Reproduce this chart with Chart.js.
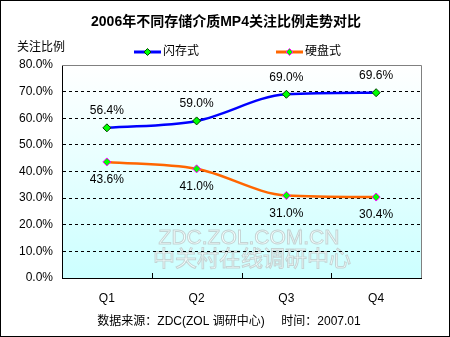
<!DOCTYPE html>
<html>
<head>
<meta charset="utf-8">
<script src="https://cdn.jsdelivr.net/npm/chart.js@4/dist/chart.umd.min.js"></script>
<style>
    body { margin: 0; background: #fff; }
    #wrap { width: 450px; height: 337px; }
</style>
</head>
<body>
<div id="wrap"><canvas id="mp4Chart" width="450" height="337"></canvas></div>
<script>
const categories = ['Q1', 'Q2', 'Q3', 'Q4'];
const flashShare = [56.4, 59.0, 69.0, 69.6];
const diskShare = [43.6, 41.0, 31.0, 30.4];
const seriesNames = ['闪存式', '硬盘式'];
const yMin = 0, yMax = 80, yStep = 10;

const titleText = '2006年不同存储介质MP4关注比例走势对比';
const yAxisTitle = '关注比例';
const footerText = '数据来源：ZDC(ZOL 调研中心)     时间：2007.01';

const FONT = '"Liberation Sans", "Noto Sans CJK SC", sans-serif';
Chart.defaults.font.family = FONT;
Chart.defaults.font.size = 12;
Chart.defaults.color = '#000';

// frame, plot background, titles, legend, watermark
const decorations = {
    id: 'decorations',
    beforeDraw(chart) {
        let ctx = chart.ctx;
        let area = chart.chartArea;
        ctx.save();
        ctx.fillStyle = '#fff';
        ctx.fillRect(0, 0, chart.width, chart.height);
        let grad = ctx.createLinearGradient(0, area.top, 0, area.bottom);
        grad.addColorStop(0, '#ffffff');
        grad.addColorStop(1, '#ccffff');
        ctx.fillStyle = grad;
        ctx.fillRect(area.left, area.top, area.right - area.left, area.bottom - area.top);

        // watermark
        ctx.textAlign = 'center';
        ctx.textBaseline = 'middle';
        ctx.lineWidth = 1;
        ctx.strokeStyle = '#c4d4d4';
        ctx.fillStyle = 'rgba(255,255,255,0.85)';
        ctx.font = '21px ' + FONT;
        ctx.fillText('ZDC.ZOL.COM.CN', 249, 238);
        ctx.strokeText('ZDC.ZOL.COM.CN', 249, 238);
        ctx.font = '22px ' + FONT;
        ctx.fillText('中关村在线调研中心', 252, 260);
        ctx.strokeText('中关村在线调研中心', 252, 260);
        ctx.restore();
    },
    afterDraw(chart) {
        let ctx = chart.ctx;
        let area = chart.chartArea;
        ctx.save();
        // top and right plot border
        ctx.strokeStyle = '#808080';
        ctx.lineWidth = 1;
        ctx.beginPath();
        ctx.moveTo(area.left, area.top + 0.5);
        ctx.lineTo(area.right + 0.5, area.top + 0.5);
        ctx.lineTo(area.right + 0.5, area.bottom);
        ctx.stroke();

        // small inner ticks between categories
        let xs = chart.scales.x;
        ctx.strokeStyle = '#000';
        for (let i = 0; i < categories.length - 1; i++) {
            let x = Math.round((xs.getPixelForValue(i) + xs.getPixelForValue(i + 1)) / 2) + 0.5;
            ctx.beginPath();
            ctx.moveTo(x, area.bottom - 5);
            ctx.lineTo(x, area.bottom);
            ctx.stroke();
        }

        // outer frame
        ctx.strokeStyle = '#000';
        ctx.strokeRect(0.5, 0.5, chart.width - 1, chart.height - 1);

        // title
        ctx.fillStyle = '#000';
        ctx.textAlign = 'center';
        ctx.textBaseline = 'middle';
        ctx.font = 'bold 14px ' + FONT;
        ctx.fillText(titleText, 226, 22);

        // y axis title
        ctx.font = '12px ' + FONT;
        ctx.textAlign = 'left';
        ctx.fillText(yAxisTitle, 17, 48);

        // footer
        ctx.textAlign = 'center';
        ctx.fillText(footerText, 229, 322);

        // legend
        let legendX = [134, 276];
        chart.data.datasets.forEach((ds, i) => {
            let x0 = legendX[i];
            ctx.strokeStyle = ds.borderColor;
            ctx.lineWidth = 3;
            ctx.beginPath();
            ctx.moveTo(x0, 52);
            ctx.lineTo(x0 + 27, 52);
            ctx.stroke();
            ctx.fillStyle = ds.pointBackgroundColor;
            ctx.strokeStyle = ds.pointBorderColor;
            ctx.lineWidth = 1;
            ctx.beginPath();
            ctx.moveTo(x0 + 13.5, 48.5);
            ctx.lineTo(x0 + 17, 52);
            ctx.lineTo(x0 + 13.5, 55.5);
            ctx.lineTo(x0 + 10, 52);
            ctx.closePath();
            ctx.fill();
            ctx.stroke();
            ctx.fillStyle = '#000';
            ctx.textAlign = 'left';
            ctx.fillText(ds.label, x0 + 29, 52);
        });
        ctx.restore();
    }
};

// value labels: blue above the points, orange below
const valueLabels = {
    id: 'valueLabels',
    afterDatasetsDraw(chart) {
        let ctx = chart.ctx;
        ctx.save();
        ctx.font = '12px ' + FONT;
        ctx.fillStyle = '#000';
        ctx.textAlign = 'center';
        ctx.textBaseline = 'middle';
        chart.data.datasets.forEach((ds, i) => {
            let meta = chart.getDatasetMeta(i);
            let dy = i === 0 ? -17 : 18;
            meta.data.forEach((pt, j) => {
                ctx.fillText(ds.data[j].toFixed(1) + '%', pt.x, pt.y + dy);
            });
        });
        ctx.restore();
    }
};

new Chart('mp4Chart', {
    type: 'line',
    data: {
        labels: categories,
        datasets: [{
            label: seriesNames[0],
            data: flashShare,
            borderColor: '#0000ff',
            borderWidth: 2.5,
            pointStyle: 'rectRot',
            pointRadius: 4,
            pointBackgroundColor: '#00ff00',
            pointBorderColor: '#004400',
            pointBorderWidth: 1,
            cubicInterpolationMode: 'monotone'
        }, {
            label: seriesNames[1],
            data: diskShare,
            borderColor: '#ff6600',
            borderWidth: 2.5,
            pointStyle: 'rectRot',
            pointRadius: 4,
            pointBackgroundColor: '#00ff00',
            pointBorderColor: '#ff00ff',
            pointBorderWidth: 1,
            cubicInterpolationMode: 'monotone'
        }]
    },
    options: {
        responsive: false,
        animation: false,
        layout: { padding: { top: 65, right: 29, left: 0, bottom: 0 } },
        plugins: {
            legend: { display: false },
            title: { display: false },
            tooltip: { enabled: false }
        },
        scales: {
            x: {
                offset: true,
                grid: { display: false, drawTicks: false },
                border: { display: true, color: '#000', width: 1 },
                ticks: { padding: 13, font: { size: 12 } },
                afterFit: scale => { scale.height = 59; }
            },
            y: {
                min: yMin,
                max: yMax,
                ticks: {
                    stepSize: yStep,
                    padding: 9,
                    font: { size: 12 },
                    callback: v => v.toFixed(1) + '%'
                },
                grid: {
                    drawTicks: false,
                    color: ctx => (ctx.tick && (ctx.tick.value === yMin || ctx.tick.value === yMax)) ? 'rgba(0,0,0,0)' : '#000',
                    lineWidth: 1
                },
                border: { display: true, color: '#000', width: 1, dash: [3, 3] },
                afterFit: scale => { scale.width = 62; }
            }
        }
    },
    plugins: [decorations, valueLabels]
});
</script>
</body>
</html>
